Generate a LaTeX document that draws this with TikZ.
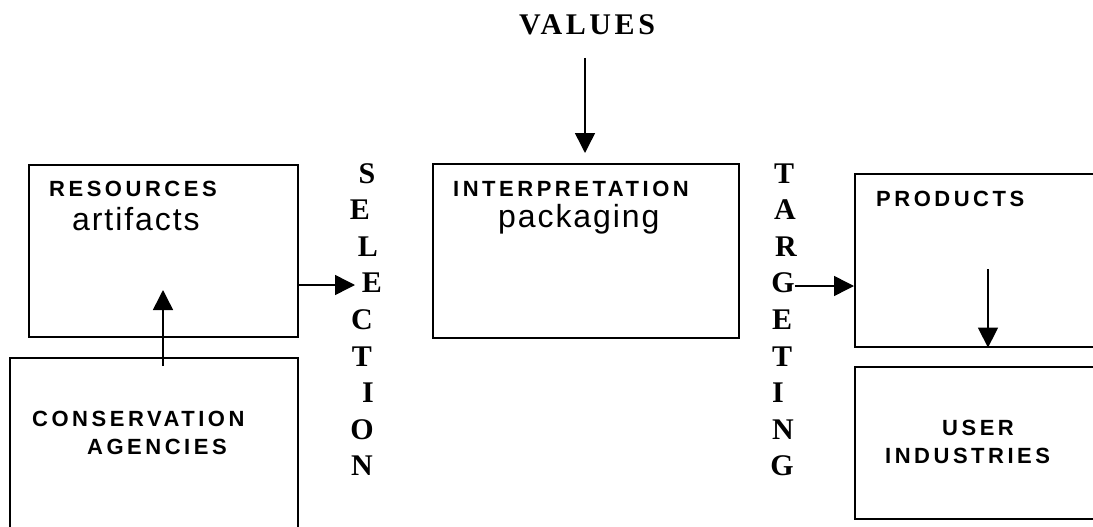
\documentclass[tikz,border=0pt]{standalone}
\usepackage{fontspec}
\usetikzlibrary{arrows.meta}
\newfontfamily\lblfont[LetterSpace=16]{Liberation Sans}
\newfontfamily\subfont[LetterSpace=6]{Liberation Sans}
\newfontfamily\valfont[LetterSpace=12]{Liberation Serif}
\newfontfamily\vertfont{Liberation Serif}
\begin{document}
\begin{tikzpicture}[x=1pt,y=-1pt,
  box/.style={draw, line width=1.6pt, inner sep=0pt, anchor=north west},
  conn/.style={line width=1.5pt, -{Triangle[length=20pt,width=20pt]}},
  lbl/.style={anchor=base west, inner sep=0pt, font=\lblfont\bfseries\fontsize{22pt}{26pt}\selectfont},
  subl/.style={anchor=base west, inner sep=0pt, font=\subfont\fontsize{32pt}{38pt}\selectfont},
  vlet/.style={anchor=base, inner sep=0pt, font=\vertfont\bfseries\fontsize{30pt}{34pt}\selectfont},
  ttl/.style={anchor=base west, inner sep=0pt, font=\valfont\bfseries\fontsize{30pt}{34pt}\selectfont}]
\useasboundingbox (0,0) rectangle (1093,527);
\clip (0,0) rectangle (1093,527);

% boxes
\node[box, minimum width=269pt, minimum height=172pt] (res) at (28,164) {};
\node[box, minimum width=288pt, minimum height=210pt] (cons) at (9,357) {};
\node[box, minimum width=306pt, minimum height=174pt] (interp) at (432,163) {};
\node[box, minimum width=280pt, minimum height=173pt] (prod) at (854,173) {};
\node[box, minimum width=280pt, minimum height=152pt] (user) at (854,366) {};

% box texts
\node[lbl] (restxt) at (49,196) {RESOURCES};
\node[subl] (arttxt) at (72,230) {artifacts};
\node[lbl] (constxt) at (32,426.5) {CONSERVATION};
\node[lbl] (agtxt) at (87,454) {AGENCIES};
\node[lbl] (inttxt) at (453,196) {INTERPRETATION};
\node[subl] (packtxt) at (498,227) {packaging};
\node[lbl] (prodtxt) at (876,206) {PRODUCTS};
\node[lbl] (usertxt) at (942,435) {USER};
\node[lbl] (indtxt) at (885,463) {INDUSTRIES};
\node[ttl] (values) at (519,34.5) {VALUES};

% SELECTION
\node[vlet] (s1) at (367,183) {S};
\node[vlet] (s2) at (360,219.6) {E};
\node[vlet] (s3) at (368,256.2) {L};
\node[vlet] (s4) at (372,292.8) {E};
\node[vlet] (s5) at (362,329.4) {C};
\node[vlet] (s6) at (362,366) {T};
\node[vlet] (s7) at (368,402.6) {I};
\node[vlet] (s8) at (362,439.2) {O};
\node[vlet] (s9) at (362,475.8) {N};

% TARGETING
\node[vlet] (t1) at (784,183) {T};
\node[vlet] (t2) at (785,219.6) {A};
\node[vlet] (t3) at (786,256.2) {R};
\node[vlet] (t4) at (783,292.8) {G};
\node[vlet] (t5) at (782,329.4) {E};
\node[vlet] (t6) at (782,366) {T};
\node[vlet] (t7) at (778,402.6) {I};
\node[vlet] (t8) at (783,439.2) {N};
\node[vlet] (t9) at (782,475.8) {G};

% connectors
\coordinate (consout) at (163,366);
\coordinate (resin) at (163,290);
\draw[conn] (consout) -- (resin);

\coordinate (resout) at (297,285);
\coordinate (selin) at (355,285);
\draw[conn] (resout) -- (selin);

\coordinate (valout) at (585,58);
\coordinate (intin) at (585,153);
\draw[conn] (valout) -- (intin);

\coordinate (targout) at (795,286);
\draw[conn] (targout) -- (prod.west |- targout);

\coordinate (prodmid) at (988,269);
\draw[conn] (prodmid) -- (prod.south -| prodmid);
\end{tikzpicture}
\end{document}
